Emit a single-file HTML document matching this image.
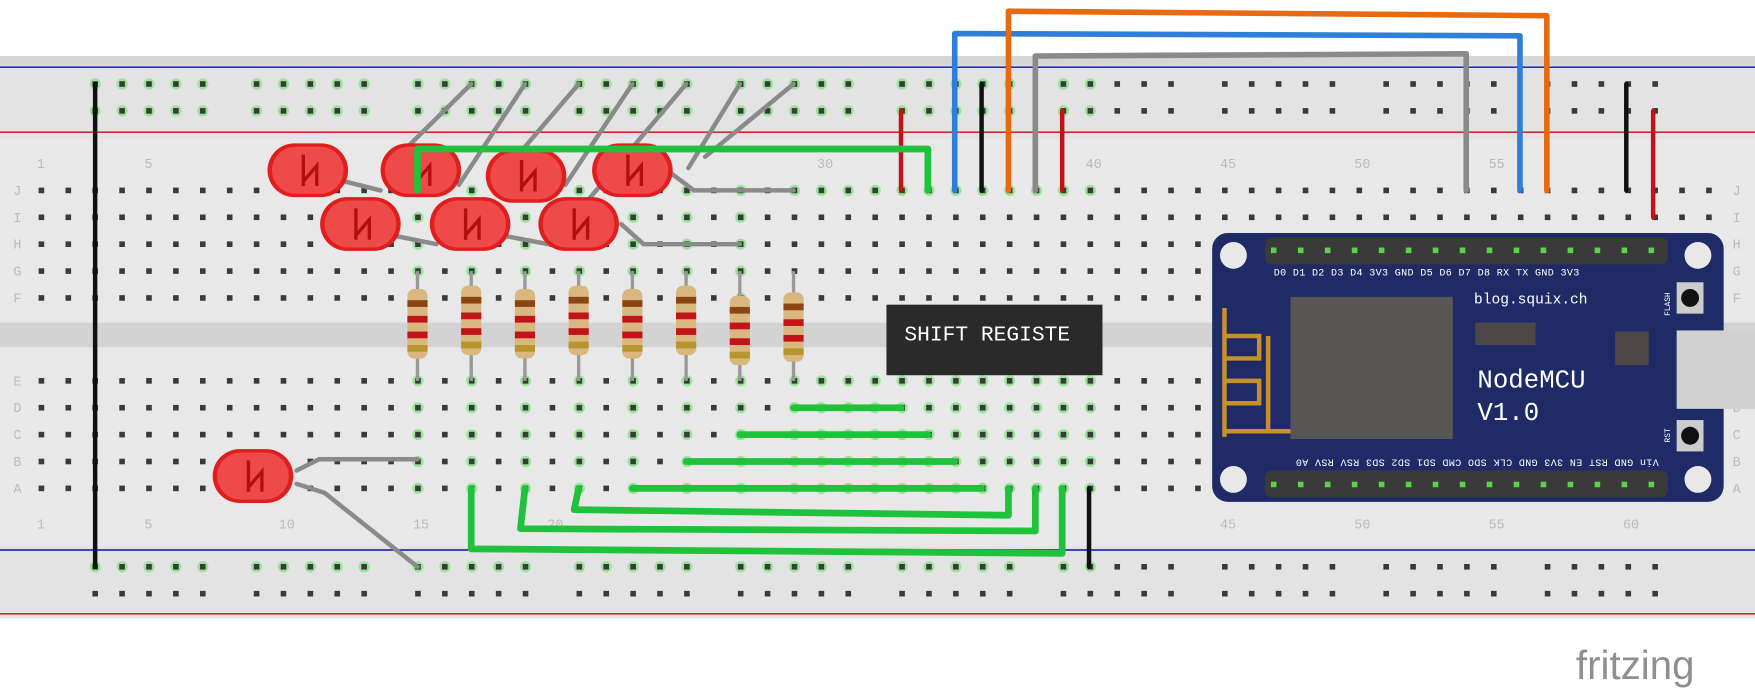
<!DOCTYPE html>
<html><head><meta charset="utf-8"><style>
html,body{margin:0;padding:0;background:#fff;width:1755px;height:690px;overflow:hidden}
svg{display:block}
text{font-family:"Liberation Mono","DejaVu Sans Mono",monospace}
</style></head><body>
<svg id="s" width="1755" height="690" viewBox="0 0 1568 616" preserveAspectRatio="none" xmlns="http://www.w3.org/2000/svg">
<rect x="0" y="50" width="1568" height="502" fill="#e3e3e3"/>
<rect x="0" y="50" width="1568" height="8" fill="#d6d6d6"/>
<rect x="0" y="124" width="1568" height="364" fill="#e8e8e8"/>
<rect x="0" y="288" width="1568" height="22" fill="#d3d3d3"/>
<line x1="0" y1="60" x2="1568" y2="60" stroke="#2233aa" stroke-width="1.5"/>
<line x1="0" y1="118" x2="1568" y2="118" stroke="#d42a2a" stroke-width="1.5"/>
<line x1="0" y1="491" x2="1568" y2="491" stroke="#2233aa" stroke-width="1.5"/>
<line x1="0" y1="548" x2="1568" y2="548" stroke="#d42a2a" stroke-width="1.5"/>
<g id="holes"></g>
<g fill="#bbb" font-size="12" style="font-family:'Liberation Sans',sans-serif">
<text x="12" y="174">J</text><text x="12" y="198">I</text><text x="12" y="222">H</text><text x="12" y="246">G</text><text x="12" y="270">F</text>
<text x="12" y="344">E</text><text x="12" y="368">D</text><text x="12" y="392">C</text><text x="12" y="416">B</text><text x="12" y="440">A</text>
<text x="1548" y="174">J</text><text x="1548" y="198">I</text><text x="1548" y="222">H</text><text x="1548" y="246">G</text><text x="1548" y="270">F</text>
<text x="1548" y="344">E</text><text x="1548" y="368">D</text><text x="1548" y="392">C</text><text x="1548" y="416">B</text><text x="1548" y="440">A</text>
<text x="33" y="150">1</text><text x="129" y="150">5</text><text x="730" y="150">30</text><text x="970" y="150">40</text><text x="1090" y="150">45</text><text x="1210" y="150">50</text><text x="1330" y="150">55</text>
<text x="33" y="472">1</text><text x="129" y="472">5</text><text x="249" y="472">10</text><text x="369" y="472">15</text><text x="489" y="472">20</text><text x="1090" y="472">45</text><text x="1210" y="472">50</text><text x="1330" y="472">55</text><text x="1450" y="472">60</text>
</g>
<g id="res"></g>
<rect x="792" y="272" width="193" height="63" fill="#2a2a2a"/>
<text x="808" y="304" fill="#fff" font-size="19">SHIFT REGISTE</text>
<rect x="1083" y="208" width="457" height="240" rx="14" fill="#1f2b66"/>
<rect x="1498" y="295" width="70" height="70" fill="#d0d0d0"/>
<rect x="1153" y="265" width="145" height="127" fill="#5a5555"/>
<rect x="1318" y="288" width="54" height="20" fill="#4e4747"/>
<rect x="1443" y="296" width="30" height="30" fill="#4e4747"/>
<path d="M1094 390 L1094 275 M1094 300 H1125 V320 H1094 V340 H1125 V360 H1094 V385 H1153 M1133 300 V385" stroke="#c8902a" stroke-width="4" fill="none"/>
<rect x="1130" y="212" width="360" height="24" rx="6" fill="#3a3a3a"/>
<rect x="1130" y="420" width="360" height="24" rx="6" fill="#3a3a3a"/>
<circle cx="1102" cy="228" r="12" fill="#e8e8e8"/><circle cx="1517" cy="228" r="12" fill="#e8e8e8"/>
<circle cx="1102" cy="428" r="12" fill="#e8e8e8"/><circle cx="1517" cy="428" r="12" fill="#e8e8e8"/>
<rect x="1498" y="252" width="24" height="28" fill="#ccc"/><circle cx="1510" cy="266" r="8" fill="#111"/>
<rect x="1498" y="375" width="24" height="28" fill="#ccc"/><circle cx="1510" cy="389" r="8" fill="#111"/>
<text x="1138" y="246" fill="#fff" font-size="9" letter-spacing="0.3">D0  D1  D2  D3  D4  3V3 GND  D5  D6  D7  D8  RX  TX  GND 3V3</text>
<text transform="translate(1482,410) rotate(180)" fill="#fff" font-size="9" letter-spacing="0.3">Vin GND RST  EN 3V3 GND CLK SDO CMD SD1 SD2 SD3 RSV RSV  A0</text>
<text x="1317" y="271" fill="#fff" font-size="13">blog.squix.ch</text>
<text x="1320" y="346" fill="#fff" font-size="23">NodeMCU</text>
<text x="1320" y="375" fill="#fff" font-size="23">V1.0</text>
<text transform="translate(1492,282) rotate(-90)" fill="#fff" font-size="7">FLASH</text>
<text transform="translate(1492,395) rotate(-90)" fill="#fff" font-size="7">RST</text>
<g id="pins"></g>
<g stroke="#8a8a8a" stroke-width="4" fill="none" stroke-linecap="round">
<line x1="421" y1="75" x2="345" y2="150"/><line x1="469" y1="75" x2="410" y2="165"/>
<line x1="517" y1="75" x2="440" y2="165"/><line x1="565" y1="75" x2="505" y2="165"/>
<line x1="613" y1="75" x2="520" y2="185"/><line x1="661" y1="75" x2="615" y2="150"/>
<line x1="709" y1="75" x2="630" y2="140"/>
<polyline points="600,155 620,170 709,170"/><polyline points="555,200 575,218 661,218"/>
<polyline points="265,420 285,410 373,410"/><polyline points="265,432 290,440 373,506"/>
<line x1="300" y1="160" x2="340" y2="170"/><line x1="350" y1="210" x2="390" y2="218"/><line x1="448" y1="210" x2="490" y2="218"/>
</g>
<g id="leds"></g>
<g fill="none" stroke-linejoin="round" stroke-linecap="round">
<g stroke="#111" stroke-width="4">
<line x1="85" y1="75" x2="85" y2="506"/><line x1="877" y1="75" x2="877" y2="170"/>
<line x1="1453" y1="75" x2="1453" y2="170"/><line x1="973" y1="436" x2="973" y2="506"/></g>
<g stroke="#c0141a" stroke-width="4">
<line x1="805" y1="99" x2="805" y2="170"/><line x1="949" y1="99" x2="949" y2="170"/><line x1="1477" y1="99" x2="1477" y2="194"/></g>
<polyline points="853,170 853,30 1358,32 1358,170" stroke="#2f7ed8" stroke-width="5"/>
<polyline points="901,170 901,10 1382,14 1382,170" stroke="#e86a10" stroke-width="5"/>
<polyline points="925,170 925,50 1310,48 1310,170" stroke="#8a8a8a" stroke-width="5"/>
<g stroke="#1fc23a" stroke-width="6">
<polyline points="373,170 373,133 829,133 829,170"/>
<line x1="709" y1="364" x2="805" y2="364"/><line x1="661" y1="388" x2="829" y2="388"/>
<line x1="613" y1="412" x2="853" y2="412"/><line x1="565" y1="436" x2="877" y2="436"/>
<polyline points="517,436 513,455 901,460 901,436"/>
<polyline points="469,436 465,472 925,474 925,436"/>
<polyline points="421,436 421,490 949,494 949,436"/></g>
</g>
<text x="1408" y="606" fill="#8f8f8f" font-size="36" style="font-family:'Liberation Sans',sans-serif">fritzing</text>
</svg>
<script>
var NS="http://www.w3.org/2000/svg";
function el(p,t,a){var e=document.createElementNS(NS,t);for(var k in a)e.setAttribute(k,a[k]);p.appendChild(e);return e;}
var H=document.getElementById("holes");
function cx(n){return 37+(n-1)*24.03;}
var used={};[15,17,19,21,23,25,27,29,30,31,32,33,34,35,36,37,38,39,40].forEach(function(c){used[c]=1});
function hole(x,y,g){if(g)el(H,"circle",{cx:x,cy:y,r:5,fill:"#9be39b"});el(H,"rect",{x:x-2.5,y:y-2.5,width:5,height:5,fill:"#3a3a3a"});}
for(var n=1;n<=63;n++){var x=cx(n);
 [170,194,218,242,266].forEach(function(y){hole(x,y,used[n]&&n>=15&&n<=40 && (y<190||n<=28));});
 [340,364,388,412,436].forEach(function(y){hole(x,y,used[n]&&n>=15&&n<=40);});}
for(var n=3;n<=62;n++){if((n-3)%6==5)continue;var x=cx(n);
 hole(x,75,n<=40);hole(x,99,n<=40);hole(x,506,n<=40);hole(x,530,false);}
var R=document.getElementById("res");
[373,421,469,517,565,613,661,709].forEach(function(x,i){var y=258+(i%2?-3:0)+(i>5?6:0);
 el(R,"line",{x1:x,y1:242,x2:x,y2:340,stroke:"#999","stroke-width":3});
 el(R,"rect",{x:x-9,y:y,width:18,height:62,rx:6,fill:"#d9b77e"});
 [[10,"#8b4513"],[24,"#c0141a"],[38,"#c0141a"],[50,"#b8962e"]].forEach(function(b){el(R,"rect",{x:x-9,y:y+b[0],width:18,height:6,fill:b[1]});});});
var L=document.getElementById("leds");
[[277,152],[378,152],[472,157],[567,152],[324,200],[422,200],[519,200],[228,425]].forEach(function(p){
 el(L,"rect",{x:p[0]-38,y:p[1]-24,width:72,height:48,rx:24,fill:"#e01e1e"});
 el(L,"rect",{x:p[0]-34,y:p[1]-21,width:64,height:42,rx:21,fill:"#ef4a4a"});
 el(L,"path",{d:"M"+(p[0]-6)+" "+(p[1]-14)+" v28 M"+(p[0]-6)+" "+(p[1]+10)+" l12 -14 v18",stroke:"#b01010","stroke-width":3,fill:"none"});});
var P=document.getElementById("pins");
for(var i=0;i<15;i++){var x=1138+i*24.1;el(P,"rect",{x:x-2.5,y:221,width:5,height:5,fill:"#5bd24a"});el(P,"rect",{x:x-2.5,y:430,width:5,height:5,fill:"#5bd24a"});}
</script>
</body></html>
